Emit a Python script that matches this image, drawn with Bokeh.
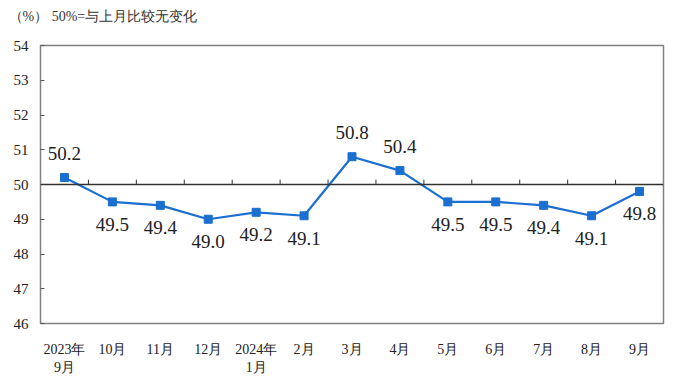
from bokeh.plotting import figure
from bokeh.models import Range1d, FixedTicker, Span, ColumnDataSource, Title
from bokeh.core.properties import value
from bokeh.embed import file_html
from bokeh.resources import INLINE

months = ["2023年\n9月", "10月", "11月", "12月", "2024年\n1月", "2月", "3月", "4月",
          "5月", "6月", "7月", "8月", "9月"]
values = [50.2, 49.5, 49.4, 49.0, 49.2, 49.1, 50.8, 50.4, 49.5, 49.5, 49.4, 49.1, 49.8]
y_ticks = [46, 47, 48, 49, 50, 51, 52, 53, 54]
label_above = [True, False, False, False, False, False, True, True, False, False, False, False, False]
header = "（%）  50%=与上月比较无变化"

BLUE = "#1a6fd0"
SERIF = "Liberation Serif"

p = figure(width=689, height=380, frame_width=623, frame_height=278,
           output_backend="svg", toolbar_location=None,
           x_range=Range1d(0, len(months)), y_range=Range1d(46, 54),
           min_border_left=40, min_border_right=26, min_border_top=45, min_border_bottom=57)
p.title = Title(text=header, align="left", offset=-32, text_font=SERIF, text_font_size="14px",
                text_font_style="normal", text_color="#333333", standoff=0)
# spacer title between header and frame
p.add_layout(Title(text=" ", text_font_size="18px", standoff=0), "above")

p.background_fill_color = "white"
p.border_fill_color = "white"
p.outline_line_color = "#808080"
p.outline_line_width = 1.5
p.xgrid.visible = False
p.ygrid.visible = False

xs = [i + 0.5 for i in range(len(months))]

# y axis
ya = p.yaxis[0]
ya.ticker = FixedTicker(ticks=y_ticks)
ya.axis_line_color = None
ya.major_tick_in = 4
ya.major_tick_out = 0
ya.minor_tick_line_color = None
ya.major_tick_line_color = "#555555"
ya.major_label_text_font = SERIF
ya.major_label_text_font_size = "15px"
ya.major_label_text_color = "#222222"
ya.major_label_standoff = 12

# x axis
xa = p.xaxis[0]
xa.ticker = FixedTicker(ticks=xs)
xa.major_label_overrides = {x: m for x, m in zip(xs, months)}
xa.axis_line_color = None
xa.major_tick_line_color = None
xa.minor_tick_line_color = None
xa.major_label_text_font = SERIF
xa.major_label_text_font_size = "14px"
xa.major_label_text_color = "#222222"
xa.major_label_standoff = 12

# 50 reference line with upward category ticks
p.add_layout(Span(location=50, dimension="width", line_color="#333333", line_width=1.5))
bx = list(range(1, len(months)))
p.segment(x0=bx, y0=[50] * len(bx), x1=bx, y1=[50.14] * len(bx), line_color="#333333", line_width=1)

# series
p.line(xs, values, line_color=BLUE, line_width=2.2)
p.scatter(xs, values, marker="square", size=8, fill_color=BLUE, line_color=BLUE)

# value labels
n = len(values)
up = [i for i in range(n) if label_above[i]]
down = [i for i in range(n) if not label_above[i]]

def src(idx):
    return ColumnDataSource(dict(x=[xs[i] for i in idx], y=[values[i] for i in idx],
                                 t=[f"{values[i]:.1f}" for i in idx]))

common = dict(text="t", text_font=value(SERIF), text_font_size="19px", text_color="#222222",
              text_align="center")
p.text(x="x", y="y", source=src(up), text_baseline="bottom", y_offset=-18, **common)
p.text(x="x", y="y", source=src(down), text_baseline="top", y_offset=16, **common)

open("out.html", "w").write(file_html(p, INLINE))
